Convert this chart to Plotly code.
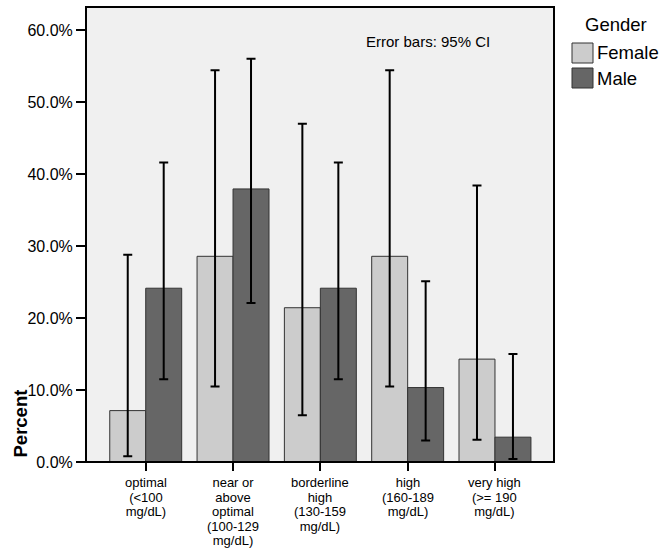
import plotly.graph_objects as go

categories = ["optimal<br>(&lt;100<br>mg/dL)",
              "near or<br>above<br>optimal<br>(100-129<br>mg/dL)",
              "borderline<br>high<br>(130-159<br>mg/dL)",
              "high<br>(160-189<br>mg/dL)",
              "very high<br>(&gt;= 190<br>mg/dL)"]
female = [7.14, 28.57, 21.43, 28.57, 14.29]
female_hi = [28.8, 54.4, 47.0, 54.4, 38.4]
female_lo = [0.8, 10.5, 6.5, 10.5, 3.1]
male = [24.14, 37.93, 24.14, 10.34, 3.45]
male_hi = [41.6, 56.0, 41.6, 25.1, 15.0]
male_lo = [11.5, 22.1, 11.5, 3.0, 0.4]
y_ticks = [0, 10, 20, 30, 40, 50, 60]

FONT = "Liberation Sans, Arial, sans-serif"
xs = list(range(len(categories)))

fig = go.Figure()
for name, vals, hi, lo, col in [("Female", female, female_hi, female_lo, "#cccccc"),
                                ("Male", male, male_hi, male_lo, "#666666")]:
    fig.add_trace(go.Bar(
        x=xs, y=vals, name=name,
        marker=dict(color=col, line=dict(color="#333333", width=1)),
        error_y=dict(type="data", symmetric=False,
                     array=[h - v for h, v in zip(hi, vals)],
                     arrayminus=[v - l for v, l in zip(vals, lo)],
                     color="black", thickness=2, width=4.5),
    ))

L, R, T, B = 86, 108, 7, 88
W, H = 662, 550
pw, ph = W - L - R, H - T - B

def px(x):
    return (x - L) / pw

def py(y):
    return (H - B - y) / ph

shapes = [
    dict(type="rect", xref="paper", yref="paper", x0=0, x1=1, y0=0, y1=1,
         line=dict(color="black", width=2), fillcolor="rgba(0,0,0,0)", layer="above"),
    dict(type="rect", xref="paper", yref="paper", x0=px(572), x1=px(593), y0=py(63), y1=py(43),
         line=dict(color="#333333", width=1), fillcolor="#cccccc"),
    dict(type="rect", xref="paper", yref="paper", x0=px(572), x1=px(593), y0=py(88), y1=py(68),
         line=dict(color="#333333", width=1), fillcolor="#666666"),
]

def ann(text, x, y, size, xanchor="center", **kw):
    return dict(text=text, xref="paper", yref="paper", x=px(x), y=py(y),
                xanchor=xanchor, yanchor="middle", showarrow=False,
                font=dict(size=size, color="black", family=FONT), **kw)

annotations = [
    ann("Error bars: 95% CI", 427.5, 42, 15),
    ann("Gender", 616, 25, 18.5),
    ann("Female", 595, 53, 18.5, xanchor="left"),
    ann("Male", 595, 78, 18.5, xanchor="left"),
    ann("<b>Percent</b>", 19.5, 424, 18.5, textangle=-90),
]
# category labels: line spacing 1.3em of 11.23px = 14.6px, glyphs at 13px
for i, cat in enumerate(categories):
    text = "<br>".join(f'<span style="font-size:13px">{ln}</span>' for ln in cat.split("<br>"))
    annotations.append(dict(text=text, xref="x", yref="paper", x=i, y=0,
                            yshift=-12, xanchor="center", yanchor="top",
                            showarrow=False, borderpad=0,
                            font=dict(size=11.23, color="black", family=FONT)))

fig.update_layout(
    width=W, height=H,
    margin=dict(l=L, r=R, t=T, b=B, autoexpand=False),
    paper_bgcolor="white", plot_bgcolor="#f0f0f0",
    barmode="group", bargap=0.176, bargroupgap=0,
    showlegend=False,
    font=dict(family=FONT, color="black"),
    shapes=shapes, annotations=annotations,
    xaxis=dict(tickmode="array", tickvals=xs, showticklabels=False,
               range=[-0.684, 4.676], showgrid=False, zeroline=False,
               ticks="outside", ticklen=8, tickwidth=1.5, tickcolor="black",
               showline=False),
    yaxis=dict(range=[0, 63.2], tickvals=y_ticks,
               ticktext=[f"{v:.1f}%" for v in y_ticks],
               showgrid=False, zeroline=False,
               ticks="outside", ticklen=9, tickwidth=1.5, tickcolor="black",
               tickfont=dict(size=16, color="black")),
)

fig.write_html("out.html")
